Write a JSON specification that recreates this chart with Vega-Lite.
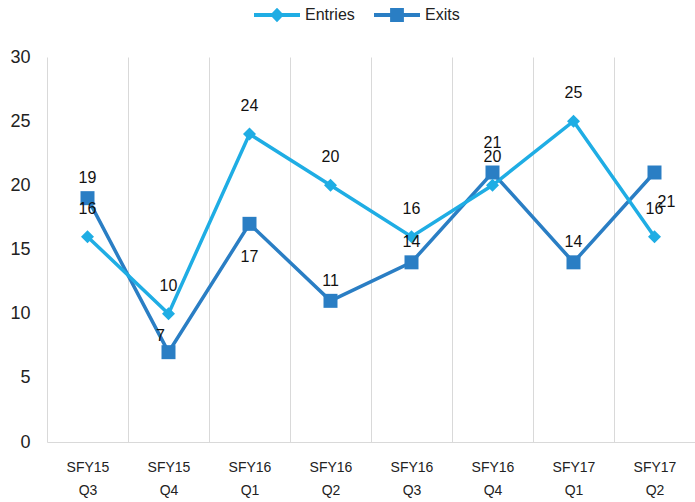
{
  "$schema": "https://vega.github.io/schema/vega-lite/v6.json",
  "width": 648,
  "height": 385,
  "autosize": "none",
  "padding": {"left": 47, "top": 57, "right": 0, "bottom": 60},
  "background": "white",
  "config": {
    "view": {"stroke": null},
    "font": "Liberation Sans",
    "legend": {"padding": 0}
  },
  "data": {
    "values": [
      {"quarter": "SFY15 Q3", "series": "Entries", "value": 16},
      {"quarter": "SFY15 Q4", "series": "Entries", "value": 10},
      {"quarter": "SFY16 Q1", "series": "Entries", "value": 24},
      {"quarter": "SFY16 Q2", "series": "Entries", "value": 20},
      {"quarter": "SFY16 Q3", "series": "Entries", "value": 16},
      {"quarter": "SFY16 Q4", "series": "Entries", "value": 20},
      {"quarter": "SFY17 Q1", "series": "Entries", "value": 25},
      {"quarter": "SFY17 Q2", "series": "Entries", "value": 16},
      {"quarter": "SFY15 Q3", "series": "Exits", "value": 19},
      {"quarter": "SFY15 Q4", "series": "Exits", "value": 7},
      {"quarter": "SFY16 Q1", "series": "Exits", "value": 17},
      {"quarter": "SFY16 Q2", "series": "Exits", "value": 11},
      {"quarter": "SFY16 Q3", "series": "Exits", "value": 14},
      {"quarter": "SFY16 Q4", "series": "Exits", "value": 21},
      {"quarter": "SFY17 Q1", "series": "Exits", "value": 14},
      {"quarter": "SFY17 Q2", "series": "Exits", "value": 21}
    ]
  },
  "encoding": {
    "x": {
      "field": "quarter", "type": "ordinal", "sort": null,
      "scale": {"type": "band", "paddingInner": 0, "paddingOuter": 0},
      "axis": {
        "title": null, "labelAngle": 0, "tickBand": "extent",
        "grid": true, "gridColor": "#d9d9d9", "gridWidth": 1,
        "ticks": false, "domainColor": "#d9d9d9", "domainWidth": 1,
        "labelExpr": "split(datum.label, ' ')",
        "labelFontSize": 14, "labelColor": "#222", "labelPadding": 25,
        "labelLineHeight": 23, "labelBaseline": "middle"
      }
    },
    "y": {
      "field": "value", "type": "quantitative",
      "scale": {"domain": [0, 30]},
      "axis": {
        "title": null, "grid": false, "domain": false, "ticks": false,
        "values": [0, 5, 10, 15, 20, 25, 30],
        "labelFontSize": 18, "labelColor": "#222", "labelPadding": 17
      }
    },
    "color": {
      "field": "series", "type": "nominal",
      "scale": {"domain": ["Entries", "Exits"], "range": ["#1FADE4", "#2A7EC4"]},
      "legend": {
        "title": null, "orient": "none", "direction": "horizontal",
        "legendX": 207, "legendY": -65,
        "labelFontSize": 16, "labelColor": "#222", "labelOffset": 5,
        "columnPadding": 19, "symbolSize": 2116, "symbolStrokeWidth": 0
      }
    }
  },
  "layer": [
    {
      "transform": [{"filter": "datum.series == 'Exits'"}],
      "mark": {"type": "line", "strokeWidth": 3.5}
    },
    {
      "transform": [{"filter": "datum.series == 'Entries'"}],
      "mark": {"type": "line", "strokeWidth": 3.5}
    },
    {
      "transform": [{"filter": "datum.series == 'Exits'"}],
      "mark": {"type": "point", "shape": "square", "filled": true, "size": 196, "opacity": 1}
    },
    {
      "transform": [{"filter": "datum.series == 'Entries'"}],
      "mark": {"type": "point", "shape": "diamond", "filled": true, "size": 170, "opacity": 1}
    },
    {
      "transform": [{"filter": "false"}],
      "mark": {"type": "point", "filled": true, "opacity": 1},
      "encoding": {
        "shape": {
          "field": "series", "type": "nominal",
          "scale": {
            "domain": ["Entries", "Exits"],
            "range": [
              "M-1,-0.087H1V0.087H-1Z M0,-0.32L0.3,0L0,0.32L-0.3,0Z",
              "M-1,-0.087H1V0.087H-1Z M-0.3,-0.3H0.3V0.3H-0.3Z"
            ]
          },
          "legend": {
            "title": null, "orient": "none", "direction": "horizontal",
            "legendX": 207, "legendY": -65,
            "labelFontSize": 16, "labelColor": "#222", "labelOffset": 5,
            "columnPadding": 19, "symbolSize": 2116, "symbolStrokeWidth": 0
          }
        }
      }
    },
    {
      "transform": [{"filter": "datum.series == 'Entries'"}],
      "mark": {"type": "text", "dy": -28, "fontSize": 16},
      "encoding": {"text": {"field": "value", "type": "quantitative"}, "color": {"value": "#111"}}
    },
    {
      "transform": [{"filter": "datum.series == 'Exits' && datum.quarter != 'SFY16 Q1' && datum.quarter != 'SFY15 Q4' && datum.quarter != 'SFY17 Q2' && datum.quarter != 'SFY16 Q4'"}],
      "mark": {"type": "text", "dy": -20, "fontSize": 16},
      "encoding": {"text": {"field": "value", "type": "quantitative"}, "color": {"value": "#111"}}
    },
    {
      "transform": [{"filter": "datum.series == 'Exits' && datum.quarter == 'SFY16 Q4'"}],
      "mark": {"type": "text", "dy": -30, "fontSize": 16},
      "encoding": {"text": {"field": "value", "type": "quantitative"}, "color": {"value": "#111"}}
    },
    {
      "transform": [{"filter": "datum.series == 'Exits' && datum.quarter == 'SFY16 Q1'"}],
      "mark": {"type": "text", "dy": 33, "fontSize": 16},
      "encoding": {"text": {"field": "value", "type": "quantitative"}, "color": {"value": "#111"}}
    },
    {
      "transform": [{"filter": "datum.series == 'Exits' && datum.quarter == 'SFY15 Q4'"}],
      "mark": {"type": "text", "dx": -8, "dy": -16, "fontSize": 16},
      "encoding": {"text": {"field": "value", "type": "quantitative"}, "color": {"value": "#111"}}
    },
    {
      "transform": [{"filter": "datum.series == 'Exits' && datum.quarter == 'SFY17 Q2'"}],
      "mark": {"type": "text", "dx": 12, "dy": 29, "fontSize": 16},
      "encoding": {"text": {"field": "value", "type": "quantitative"}, "color": {"value": "#111"}}
    }
  ]
}
